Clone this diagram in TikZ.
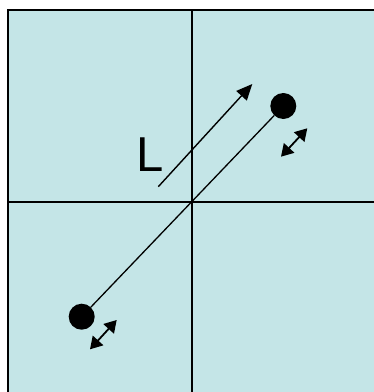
\documentclass[tikz,border=0pt]{standalone}
\usepackage{fontspec}
\setmainfont{Liberation Sans}
\usetikzlibrary{arrows.meta}
\definecolor{cellfill}{RGB}{196,229,231}

\begin{document}
\begin{tikzpicture}[x=1pt,y=-1pt,
  dot/.style={circle,fill=black,inner sep=0pt,minimum size=26pt},
  grid line/.style={line width=2pt},
  jiggle/.style={line width=1.8pt,{Triangle[length=12pt,width=14pt]}-{Triangle[length=12pt,width=14pt]}}]
  \def\midx{191.5}
  \def\midy{201.5}
  \useasboundingbox (0,0) rectangle (374,392);
  % cell and its four quarters
  \fill[cellfill] (8,10) rectangle (375,393);
  \draw[grid line] (8,10) rectangle (375,393);
  \draw[grid line] (\midx,10) -- (\midx,393);
  \draw[grid line] (8,\midy) -- (375,\midy);
  % the two atoms and the bond between them
  \node[dot] (lower) at (81.7,316.7) {};
  \node[dot] (upper) at (283.3,106) {};
  \draw[line width=1.3pt] (lower) -- (upper);
  % length arrow
  \coordinate (ltail) at (158.3,186.7);
  \coordinate (lhead) at (252.3,84);
  \draw[line width=1.4pt,-{Triangle[length=16pt,width=14pt]}] (ltail) -- (lhead);
  \node[inner sep=0pt,font=\fontsize{49}{49}\selectfont] (lab) at (150,154.5) {L};
  % vibration arrows
  \coordinate (ua) at (281,156.7);
  \coordinate (ub) at (307.3,128.3);
  \draw[jiggle] (ua) -- (ub);
  \coordinate (la) at (90,349.3);
  \coordinate (lb) at (116.7,320);
  \draw[jiggle] (la) -- (lb);
\end{tikzpicture}
\end{document}
